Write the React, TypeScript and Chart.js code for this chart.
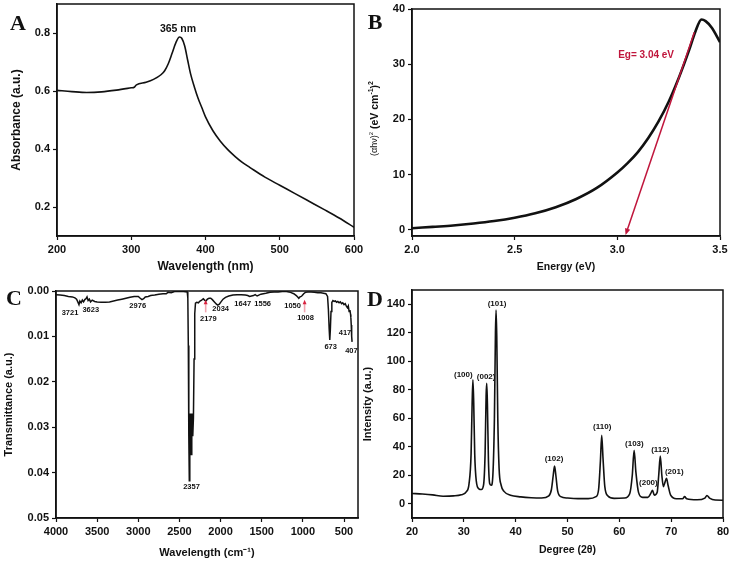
import React, { useEffect, useRef } from "react";
import { Chart, registerables } from "chart.js";
Chart.register(...registerables);

const SANS = "'Liberation Sans', Arial, Helvetica, sans-serif";
const SERIF = "'Liberation Serif', 'Times New Roman', serif";
const INK = "#111111";
const RED = "#c0163c";

// ---------- Panel A : UV-Vis absorbance ----------
const uvWavelength = [200, 220, 240, 260, 280, 300, 304, 307, 320, 330, 340, 345, 350, 355, 360, 365, 368, 372, 376, 380, 385, 390, 395, 400, 410, 420, 430, 440, 450, 460, 480, 500, 520, 540, 560, 580, 600];
const uvAbsorbance = [0.602, 0.598, 0.595, 0.597, 0.603, 0.611, 0.613, 0.621, 0.630, 0.640, 0.656, 0.670, 0.695, 0.730, 0.766, 0.786, 0.782, 0.755, 0.706, 0.658, 0.614, 0.575, 0.543, 0.511, 0.463, 0.427, 0.398, 0.374, 0.353, 0.336, 0.303, 0.275, 0.247, 0.219, 0.191, 0.162, 0.130];
const uvXTicks = [200, 300, 400, 500, 600];
const uvYTicks = [0.2, 0.4, 0.6, 0.8];
const uvPeakText = "365 nm";
const uvPeakAt = [363, 0.812];

// ---------- Panel B : Tauc plot ----------
const taucEnergy = [2.0, 2.1, 2.2, 2.3, 2.4, 2.5, 2.6, 2.7, 2.8, 2.9, 3.0, 3.05, 3.1, 3.15, 3.2, 3.25, 3.3, 3.35, 3.38, 3.41, 3.43, 3.46, 3.5];
const taucValue = [0.3, 0.55, 0.8, 1.15, 1.6, 2.2, 3.0, 4.1, 5.6, 7.6, 10.4, 12.1, 14.1, 16.6, 19.6, 23.2, 27.6, 32.6, 35.9, 38.1, 37.8, 36.6, 34.0];
const taucXTicks = [2.0, 2.5, 3.0, 3.5];
const taucYTicks = [0, 10, 20, 30, 40];
const taucFitFrom = [3.375, 35.8];
const taucFitTo = [3.04, -0.9];
const taucEgText = "Eg= 3.04 eV";
const taucEgAt = [3.14, 31.7];

// ---------- Panel C : FTIR ----------
const irWavenumber = [4000, 3950, 3900, 3850, 3800, 3770, 3750, 3735, 3721, 3710, 3695, 3680, 3665, 3650, 3635, 3623, 3610, 3595, 3580, 3560, 3530, 3500, 3450, 3400, 3350, 3300, 3250, 3200, 3150, 3100, 3050, 3000, 2976, 2955, 2935, 2915, 2880, 2850, 2800, 2750, 2700, 2660, 2640, 2600, 2560, 2500, 2450, 2405, 2398, 2392, 2386, 2380, 2374, 2368, 2362, 2356, 2350, 2344, 2338, 2330, 2322, 2314, 2305, 2290, 2270, 2250, 2230, 2210, 2195, 2179, 2160, 2140, 2120, 2100, 2075, 2050, 2034, 2015, 1995, 1970, 1940, 1900, 1850, 1800, 1750, 1700, 1670, 1647, 1625, 1600, 1580, 1556, 1535, 1510, 1480, 1450, 1400, 1350, 1300, 1250, 1200, 1150, 1110, 1080, 1060, 1050, 1035, 1020, 1008, 990, 970, 940, 900, 860, 820, 780, 750, 720, 700, 690, 680, 673, 666, 658, 648, 635, 620, 605, 590, 575, 560, 545, 530, 515, 500, 485, 470, 458, 448, 438, 428, 420, 417, 412, 407, 402];
const irTransmittance = [0.0008, 0.0009, 0.0010, 0.0012, 0.0013, 0.0015, 0.0018, 0.0024, 0.0030, 0.0022, 0.0026, 0.0020, 0.0024, 0.0019, 0.0017, 0.0013, 0.0021, 0.0018, 0.0024, 0.0020, 0.0023, 0.0024, 0.0025, 0.0025, 0.0024, 0.0022, 0.0020, 0.0018, 0.0016, 0.0014, 0.0012, 0.0012, 0.0016, 0.0019, 0.0017, 0.0013, 0.0012, 0.0010, 0.0009, 0.0007, 0.0006, 0.0006, 0.0003, 0.0004, 0.0001, 0.0001, 0.0001, 0.0002, 0.0015, 0.0120, 0.0320, 0.0418, 0.0340, 0.0270, 0.0290, 0.0360, 0.0300, 0.0270, 0.0320, 0.0280, 0.0150, 0.0050, 0.0027, 0.0025, 0.0026, 0.0022, 0.0020, 0.0017, 0.0020, 0.0022, 0.0018, 0.0016, 0.0016, 0.0019, 0.0024, 0.0029, 0.0031, 0.0029, 0.0024, 0.0018, 0.0014, 0.0011, 0.0009, 0.0008, 0.0008, 0.0009, 0.0010, 0.0012, 0.0011, 0.0010, 0.0008, 0.0011, 0.0009, 0.0007, 0.0006, 0.0005, 0.0003, 0.0002, 0.0002, 0.0001, 0.0001, 0.0003, 0.0006, 0.0010, 0.0014, 0.0016, 0.0013, 0.0012, 0.0010, 0.0006, 0.0003, 0.0002, 0.0002, 0.0003, 0.0004, 0.0004, 0.0005, 0.0006, 0.0012, 0.0040, 0.0085, 0.0108, 0.0085, 0.0045, 0.0025, 0.0021, 0.0023, 0.0022, 0.0025, 0.0023, 0.0026, 0.0024, 0.0028, 0.0026, 0.0030, 0.0028, 0.0034, 0.0037, 0.0033, 0.0045, 0.0042, 0.0052, 0.0058, 0.0075, 0.0100, 0.0112];
const irXTicks = [4000, 3500, 3000, 2500, 2000, 1500, 1000, 500];
const irYTicks = [0, 0.01, 0.02, 0.03, 0.04, 0.05];
const irPeakTexts = ["3721", "3623", "2976", "2357", "2179", "2034", "1647", "1556", "1050", "1008", "673", "417", "407"];
const irPeakX = [3830, 3578, 3007, 2353, 2149, 1999, 1731, 1489, 1125, 968, 662, 488, 410];
const irPeakY = [0.0049, 0.0042, 0.0034, 0.0431, 0.0062, 0.0040, 0.0028, 0.0028, 0.0034, 0.0060, 0.0124, 0.0093, 0.0132];
const irArrowX = [2181, 979];
const irArrowFromY = 0.0047;
const irArrowToY = 0.0019;

// ---------- Panel D : XRD ----------
const xrdAngle = [20, 22, 24, 26, 28, 29.5, 30.5, 31.0, 31.4, 31.6, 31.75, 31.9, 32.1, 32.4, 32.9, 33.4, 33.8, 34.1, 34.3, 34.42, 34.55, 34.75, 35.0, 35.3, 35.6, 35.9, 36.1, 36.22, 36.35, 36.55, 36.8, 37.2, 37.8, 39, 41, 43, 45, 46.4, 46.9, 47.25, 47.5, 47.75, 48.1, 48.7, 50, 52, 54, 55.5, 56.0, 56.35, 56.6, 56.85, 57.2, 57.8, 59, 61, 62.0, 62.5, 62.85, 63.2, 63.7, 64.5, 65.5, 66.1, 66.4, 66.75, 67.3, 67.6, 67.9, 68.2, 68.5, 68.8, 69.1, 69.4, 69.9, 71, 72.2, 72.6, 73.0, 75, 76.5, 76.9, 77.4, 78.5, 80];
const xrdIntensity = [7.2, 6.8, 6.2, 5.3, 5.5, 6.3, 8.5, 14, 35, 70, 87, 72, 35, 16, 10.5, 10, 13, 35, 76, 84.5, 70, 30, 14, 13, 20, 60, 120, 136, 118, 60, 25, 13, 8.5, 6, 4.8, 4.2, 4.0, 5.5, 10, 20, 26.4, 20, 9, 5, 4, 3.6, 3.6, 5, 10, 30, 48, 32, 12, 5.5, 3.8, 4, 7, 20, 37.5, 22, 8, 4.5, 4.5, 7.5, 9.5, 6, 8, 20, 33.5, 20, 12, 15, 17.8, 13, 6, 3.5, 3.5, 5, 3.5, 2.8, 4, 5.8, 4, 2.6, 2.5];
const xrdXTicks = [20, 30, 40, 50, 60, 70, 80];
const xrdYTicks = [0, 20, 40, 60, 80, 100, 120, 140];
const xrdPlaneTexts = ["(100)", "(002)", "(101)", "(102)", "(110)", "(103)", "(200)", "(112)", "(201)"];
const xrdPlaneX = [29.9, 34.3, 36.4, 47.4, 56.7, 62.9, 65.6, 67.9, 70.6];
const xrdPlaneY = [90.3, 89.1, 140.6, 31.7, 54, 42.3, 15, 38.1, 22.2];

// ---------- generic panel ----------
type AxisSpec = {
  min: number; max: number; ticks: number[]; fmt: (v: number) => string;
  reverse?: boolean; title?: string; titleSize?: number; titlePad?: number;
};
type PanelSpec = {
  box: { left: number; top: number; width: number; height: number };
  pad: { left: number; top: number; right: number; bottom: number };
  yAxisWidth: number; xAxisHeight: number;
  x: AxisSpec; y: AxisSpec;
  xs: number[]; ys: number[];
  lineWidth: number; smooth: boolean;
  letter: { text: string; x: number; y: number };
  decorate?: (chart: any, ctx: CanvasRenderingContext2D) => void;
};

function scaleOpts(a: AxisSpec, horizontal: boolean, size: number) {
  return {
    type: "linear",
    position: horizontal ? "bottom" : "left",
    min: a.min,
    max: a.max,
    reverse: !!a.reverse,
    afterBuildTicks: (s: any) => {
      s.ticks = a.ticks.map((v) => ({ value: v }));
    },
    afterFit: (s: any) => {
      if (horizontal) s.height = size;
      else s.width = size;
      s.paddingLeft = 0; s.paddingRight = 0; s.paddingTop = 0; s.paddingBottom = 0;
    },
    grid: { display: true, drawOnChartArea: false, drawTicks: true, tickLength: 4, tickWidth: 1.2, tickColor: INK },
    border: { display: true, color: INK, width: 1.5 },
    ticks: {
      color: INK, padding: 3, autoSkip: false, maxRotation: 0, minRotation: 0,
      font: { family: SANS, size: 11, weight: "bold" },
      callback: (v: any) => a.fmt(Number(v)),
    },
    title: a.title
      ? { display: true, text: a.title, color: INK, font: { family: SANS, size: a.titleSize || 11, weight: "bold" }, padding: { top: a.titlePad || 0, bottom: a.titlePad || 0 } }
      : { display: false },
  };
}

function drawArrow(ctx: CanvasRenderingContext2D, x1: number, y1: number, x2: number, y2: number, color: string, head: number, shaft?: string, width = 1.5) {
  const ang = Math.atan2(y2 - y1, x2 - x1);
  ctx.strokeStyle = shaft || color;
  ctx.lineWidth = width;
  ctx.beginPath();
  ctx.moveTo(x1, y1);
  ctx.lineTo(x2 - Math.cos(ang) * head * 0.6, y2 - Math.sin(ang) * head * 0.6);
  ctx.stroke();
  ctx.fillStyle = color;
  ctx.beginPath();
  ctx.moveTo(x2, y2);
  ctx.lineTo(x2 - head * Math.cos(ang - 0.4), y2 - head * Math.sin(ang - 0.4));
  ctx.lineTo(x2 - head * Math.cos(ang + 0.4), y2 - head * Math.sin(ang + 0.4));
  ctx.closePath();
  ctx.fill();
}

function Panel({ spec }: { spec: PanelSpec }) {
  const ref = useRef<HTMLCanvasElement>(null);
  useEffect(() => {
    const decor = {
      id: "decor" + spec.letter.text,
      afterDraw(chart: any) {
        const { ctx, chartArea: ca } = chart;
        ctx.save();
        ctx.strokeStyle = INK;
        ctx.lineWidth = 1.5;
        ctx.strokeRect(ca.left, ca.top, ca.right - ca.left, ca.bottom - ca.top);
        ctx.fillStyle = INK;
        ctx.font = `bold 22px ${SERIF}`;
        ctx.textAlign = "center";
        ctx.textBaseline = "middle";
        ctx.fillText(spec.letter.text, spec.letter.x, spec.letter.y);
        if (spec.decorate) spec.decorate(chart, ctx);
        ctx.restore();
      },
    };
    const chart = new Chart(ref.current as HTMLCanvasElement, {
      type: "line",
      data: {
        datasets: [
          {
            data: spec.xs.map((x, i) => ({ x, y: spec.ys[i] })),
            borderColor: INK,
            borderWidth: spec.lineWidth,
            pointRadius: 0,
            fill: false,
            cubicInterpolationMode: spec.smooth ? "monotone" : "default",
            tension: 0,
          } as any,
        ],
      },
      options: {
        animation: false,
        responsive: false,
        devicePixelRatio: 1,
        layout: { padding: spec.pad },
        plugins: { legend: { display: false }, tooltip: { enabled: false } },
        scales: {
          x: scaleOpts(spec.x, true, spec.xAxisHeight) as any,
          y: scaleOpts(spec.y, false, spec.yAxisWidth) as any,
        },
      },
      plugins: [decor],
    });
    return () => chart.destroy();
  }, []);
  const b = spec.box;
  return (
    <div style={{ position: "absolute", left: b.left, top: b.top, width: b.width, height: b.height }}>
      <canvas ref={ref} width={b.width} height={b.height} style={{ width: b.width, height: b.height, display: "block" }} />
    </div>
  );
}

const panelA: PanelSpec = {
  box: { left: 0, top: 0, width: 366, height: 280 },
  pad: { left: 0, top: 4, right: 12, bottom: 0 },
  yAxisWidth: 57, xAxisHeight: 44,
  x: { min: 200, max: 600, ticks: uvXTicks, fmt: (v) => String(v), title: "Wavelength (nm)", titleSize: 12, titlePad: 6 },
  y: { min: 0.1, max: 0.9, ticks: uvYTicks, fmt: (v) => v.toFixed(1), title: "Absorbance (a.u.)", titleSize: 12, titlePad: 9 },
  xs: uvWavelength, ys: uvAbsorbance, lineWidth: 1.6, smooth: true,
  letter: { text: "A", x: 18, y: 24 },
  decorate: (chart, ctx) => {
    const xs = chart.scales.x, ys = chart.scales.y;
    ctx.font = `bold 10.5px ${SANS}`;
    ctx.fillStyle = INK;
    ctx.textAlign = "center";
    ctx.textBaseline = "middle";
    ctx.fillText(uvPeakText, xs.getPixelForValue(uvPeakAt[0]), ys.getPixelForValue(uvPeakAt[1]));
  },
};

const panelB: PanelSpec = {
  box: { left: 366, top: 0, width: 366, height: 280 },
  pad: { left: 0, top: 9, right: 12, bottom: 0 },
  yAxisWidth: 46, xAxisHeight: 44,
  x: { min: 2.0, max: 3.5, ticks: taucXTicks, fmt: (v) => v.toFixed(1), title: "Energy (eV)", titleSize: 10.5, titlePad: 6.7 },
  y: { min: -1.1, max: 40, ticks: taucYTicks, fmt: (v) => String(v) },
  xs: taucEnergy, ys: taucValue, lineWidth: 2.6, smooth: true,
  letter: { text: "B", x: 9, y: 23 },
  decorate: (chart, ctx) => {
    const xs = chart.scales.x, ys = chart.scales.y;
    drawArrow(ctx, xs.getPixelForValue(taucFitFrom[0]), ys.getPixelForValue(taucFitFrom[1]), xs.getPixelForValue(taucFitTo[0]), ys.getPixelForValue(taucFitTo[1]), RED, 7, RED, 1.5);
    ctx.font = `bold 10px ${SANS}`;
    ctx.fillStyle = RED;
    ctx.textAlign = "center";
    ctx.textBaseline = "middle";
    ctx.fillText(taucEgText, xs.getPixelForValue(taucEgAt[0]), ys.getPixelForValue(taucEgAt[1]));
    const segs = [
      { t: "(αhν)", f: `9px ${SANS}`, dy: 0 },
      { t: "2", f: `6px ${SANS}`, dy: -4 },
      { t: " (eV cm", f: `bold 10.5px ${SANS}`, dy: 0 },
      { t: "-1", f: `bold 7px ${SANS}`, dy: -4 },
      { t: ")", f: `bold 10.5px ${SANS}`, dy: 0 },
      { t: "2", f: `bold 7px ${SANS}`, dy: -4 },
    ];
    let total = 0;
    const widths = segs.map((s) => { ctx.font = s.f; const w = ctx.measureText(s.t).width; total += w; return w; });
    ctx.save();
    ctx.translate(9, (chart.chartArea.top + chart.chartArea.bottom) / 2 - 4);
    ctx.rotate(-Math.PI / 2);
    ctx.fillStyle = INK;
    ctx.textAlign = "left";
    ctx.textBaseline = "middle";
    let cx = -total / 2;
    segs.forEach((s, i) => { ctx.font = s.f; ctx.fillText(s.t, cx, s.dy); cx += widths[i]; });
    ctx.restore();
  },
};

const panelC: PanelSpec = {
  box: { left: 0, top: 280, width: 366, height: 283 },
  pad: { left: 0, top: 11, right: 8, bottom: 0 },
  yAxisWidth: 56, xAxisHeight: 45,
  x: { min: 330, max: 4000, reverse: true, ticks: irXTicks, fmt: (v) => String(v), title: "Wavelength (cm⁻¹)", titleSize: 11, titlePad: 3.4 },
  y: { min: 0, max: 0.05, reverse: true, ticks: irYTicks, fmt: (v) => v.toFixed(2), title: "Transmittance (a.u.)", titleSize: 11, titlePad: 2.4 },
  xs: irWavenumber, ys: irTransmittance, lineWidth: 1.5, smooth: false,
  letter: { text: "C", x: 14, y: 19 },
  decorate: (chart, ctx) => {
    const xs = chart.scales.x, ys = chart.scales.y;
    irArrowX.forEach((w) => {
      drawArrow(ctx, xs.getPixelForValue(w), ys.getPixelForValue(irArrowFromY), xs.getPixelForValue(w), ys.getPixelForValue(irArrowToY), "#d8223f", 5, "#f0a6b0", 1.6);
    });
    ctx.font = `bold 7.5px ${SANS}`;
    ctx.fillStyle = INK;
    ctx.textAlign = "center";
    ctx.textBaseline = "middle";
    irPeakTexts.forEach((t, i) => {
      ctx.fillText(t, xs.getPixelForValue(irPeakX[i]), ys.getPixelForValue(irPeakY[i]));
    });
  },
};

const panelD: PanelSpec = {
  box: { left: 360, top: 280, width: 372, height: 283 },
  pad: { left: 0, top: 10, right: 9, bottom: 0 },
  yAxisWidth: 52, xAxisHeight: 45,
  x: { min: 20, max: 80, ticks: xrdXTicks, fmt: (v) => String(v), title: "Degree (2θ)", titleSize: 10.5, titlePad: 6.7 },
  y: { min: -10, max: 150, ticks: xrdYTicks, fmt: (v) => String(v), title: "Intensity (a.u.)", titleSize: 11, titlePad: 1 },
  xs: xrdAngle, ys: xrdIntensity, lineWidth: 1.6, smooth: true,
  letter: { text: "D", x: 15, y: 20 },
  decorate: (chart, ctx) => {
    const xs = chart.scales.x, ys = chart.scales.y;
    ctx.font = `bold 8px ${SANS}`;
    ctx.fillStyle = INK;
    ctx.textAlign = "center";
    ctx.textBaseline = "middle";
    xrdPlaneTexts.forEach((t, i) => {
      ctx.fillText(t, xs.getPixelForValue(xrdPlaneX[i]), ys.getPixelForValue(xrdPlaneY[i]));
    });
  },
};

export default function App() {
  return (
    <div style={{ position: "fixed", left: 0, top: 0, width: 732, height: 563, background: "#ffffff", overflow: "hidden" }}>
      <Panel spec={panelA} />
      <Panel spec={panelB} />
      <Panel spec={panelC} />
      <Panel spec={panelD} />
    </div>
  );
}
